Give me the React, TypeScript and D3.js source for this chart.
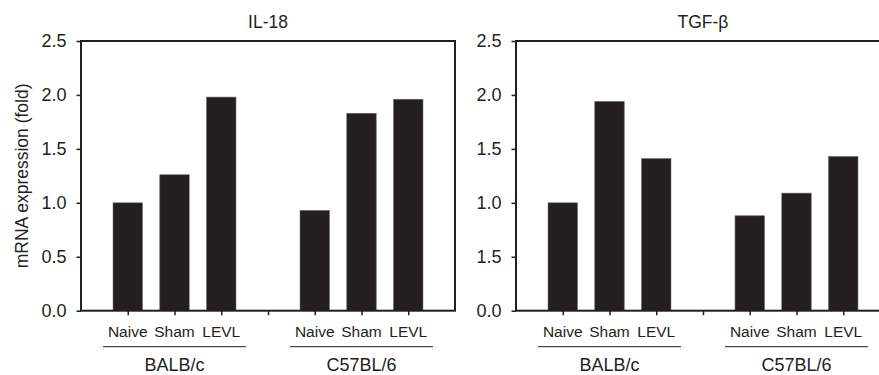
import React, { useEffect, useRef } from 'react';
import * as d3 from 'd3';

// data
const strains = ['BALB/c', 'C57BL/6'];
const treatments = ['Naive', 'Sham', 'LEVL'];
const il18Values = [1.0, 1.26, 1.98, 0.93, 1.83, 1.96];
const tgfValues = [1.0, 1.94, 1.41, 0.88, 1.09, 1.43];
const yTickValues = [0, 0.5, 1.0, 1.5, 2.0, 2.5];
const il18TickLabels = ['0.0', '0.5', '1.0', '1.5', '2.0', '2.5'];
const tgfTickLabels = ['0.0', '1.5', '1.0', '1.5', '2.0', '2.5']; // as printed in the figure
const panelTitles = ['IL-18', 'TGF-\u03b2'];

const W = 879;
const H = 375;
const ink = '#231f20';
const font = 'Liberation Sans, Arial, Helvetica, sans-serif';

// slot keys: 3 bars, a gap, 3 bars
const slots = [
  ...treatments.map(t => `${strains[0]}|${t}`),
  'gap',
  ...treatments.map(t => `${strains[1]}|${t}`),
];

function drawPanel(svg: any, left: number, values: number[], tickLabels: string[], title: string, yTitle: boolean) {
  const top = 41;
  const bottom = 310.7;
  const pw = 374;

  const x = d3.scalePoint<string>().domain(slots).range([0, pw]).padding(1);
  const y = d3.scaleLinear().domain([0, 2.5]).range([bottom - top, 0]);
  const step = x.step();
  const barW = step * 0.63;

  const g = svg.append('g').attr('transform', `translate(${left},${top})`);

  // bars
  const barKeys = slots.filter(s => s !== 'gap');
  g.selectAll('rect.bar')
    .data(barKeys.map((k, i) => ({ k, v: values[i] })))
    .enter()
    .append('rect')
    .attr('class', 'bar')
    .attr('x', (d: any) => (x(d.k) as number) - barW / 2)
    .attr('width', barW)
    .attr('y', (d: any) => y(d.v))
    .attr('height', (d: any) => y(0) - y(d.v))
    .attr('fill', ink)
    .attr('stroke', '#6d6a6b')
    .attr('stroke-width', 0.6);

  // box frame
  g.append('rect')
    .attr('x', 0)
    .attr('y', 0)
    .attr('width', pw)
    .attr('height', y(0))
    .attr('fill', 'none')
    .attr('stroke', ink)
    .attr('stroke-width', 2);

  // y axis
  const yAxis = d3.axisLeft(y)
    .tickValues(yTickValues)
    .tickFormat((d: any, i: number) => tickLabels[i])
    .tickSize(4.5)
    .tickPadding(10);
  const ya = g.append('g').call(yAxis);
  ya.select('.domain').remove();
  ya.selectAll('line').attr('stroke', ink).attr('stroke-width', 1.5);
  ya.selectAll('text')
    .attr('font-family', font)
    .attr('font-size', 18)
    .attr('fill', ink);

  // x axis ticks (no labels)
  const xAxis = d3.axisBottom(x).tickSize(4.5).tickFormat(() => '');
  const xa = g.append('g').attr('transform', `translate(0,${y(0)})`).call(xAxis);
  xa.select('.domain').remove();
  xa.selectAll('line').attr('stroke', ink).attr('stroke-width', 1.5);

  // category labels
  g.selectAll('text.cat')
    .data(barKeys)
    .enter()
    .append('text')
    .attr('class', 'cat')
    .attr('x', (d: string) => x(d) as number)
    .attr('y', 337 - top)
    .attr('text-anchor', 'middle')
    .attr('font-family', font)
    .attr('font-size', 15.5)
    .attr('fill', ink)
    .text((d: string) => d.split('|')[1]);

  // strain underline + label
  strains.forEach(s => {
    const first = x(`${s}|${treatments[0]}`) as number;
    const mid = x(`${s}|${treatments[1]}`) as number;
    const last = x(`${s}|${treatments[2]}`) as number;
    g.append('line')
      .attr('x1', first - step * 0.53)
      .attr('x2', last + step * 0.53)
      .attr('y1', 346.7 - top)
      .attr('y2', 346.7 - top)
      .attr('stroke', ink)
      .attr('stroke-width', 1);
    g.append('text')
      .attr('x', mid)
      .attr('y', 371 - top)
      .attr('text-anchor', 'middle')
      .attr('font-family', font)
      .attr('font-size', 18)
      .attr('fill', ink)
      .text(s);
  });

  // title
  g.append('text')
    .attr('x', pw / 2)
    .attr('y', 27.5 - top)
    .attr('text-anchor', 'middle')
    .attr('font-family', font)
    .attr('font-size', 17.5)
    .attr('fill', ink)
    .text(title);

  if (yTitle) {
    svg.append('text')
      .attr('transform', `translate(28,${(top + bottom) / 2}) rotate(-90)`)
      .attr('text-anchor', 'middle')
      .attr('font-family', font)
      .attr('font-size', 17.5)
      .attr('fill', ink)
      .text('mRNA expression (fold)');
  }
}

export default function App() {
  const ref = useRef<SVGSVGElement>(null);

  useEffect(() => {
    const svg = d3.select(ref.current);
    svg.selectAll('*').remove();
    drawPanel(svg, 81, il18Values, il18TickLabels, panelTitles[0], true);
    drawPanel(svg, 516, tgfValues, tgfTickLabels, panelTitles[1], false);
  }, []);

  return (
    <svg
      ref={ref}
      width={W}
      height={H}
      style={{ position: 'absolute', left: 0, top: 0, background: '#fff', overflow: 'hidden' }}
    />
  );
}
